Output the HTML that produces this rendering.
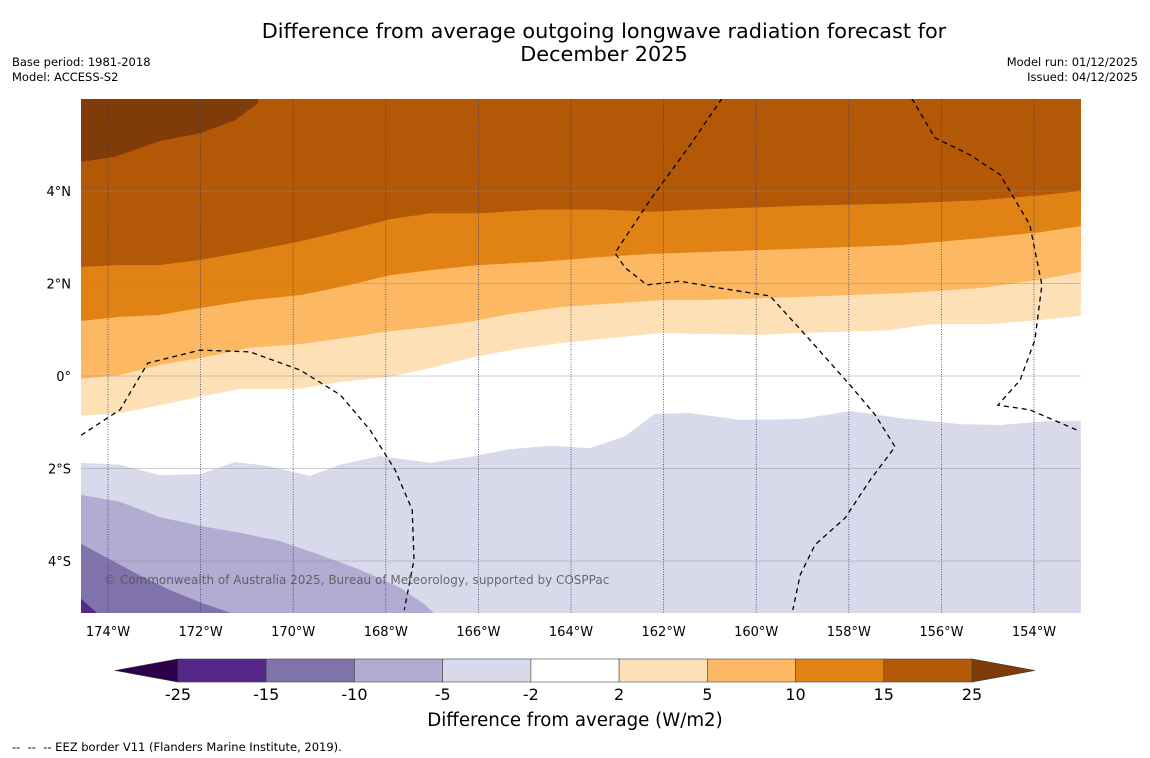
<!DOCTYPE html>
<html><head><meta charset="utf-8"><style>
body{margin:0;background:#fff;font-family:"DejaVu Sans","Liberation Sans",sans-serif}
svg{display:block}
</style></head><body>
<svg id="c" width="1150" height="758" viewBox="0 0 1150 758" xmlns="http://www.w3.org/2000/svg">
<text x="604" y="38" font-size="20.8" text-anchor="middle" fill="#000">Difference from average outgoing longwave radiation forecast for</text>
<text x="604" y="61" font-size="20.8" text-anchor="middle" fill="#000">December 2025</text>
<text x="12" y="66" font-size="11.5">Base period: 1981-2018</text>
<text x="12" y="81" font-size="11.5">Model: ACCESS-S2</text>
<text x="1138" y="66" font-size="11.5" text-anchor="end">Model run: 01/12/2025</text>
<text x="1138" y="81" font-size="11.5" text-anchor="end">Issued: 04/12/2025</text>
<g id="plot"></g>
<g id="axes"></g>
<g id="cbar"></g>
<text x="575" y="726" font-size="18.2" text-anchor="middle">Difference from average (W/m2)</text>
<text x="12" y="751" font-size="11.5" xml:space="preserve">--  --  -- EEZ border V11 (Flanders Marine Institute, 2019).</text>
</svg>
<script>
const NS="http://www.w3.org/2000/svg";
// contour boundaries: longitudes (deg E, negative = W) and latitudes
const bLon=[-174.58,-173.74,-172.88,-172.01,-170.93,-169.85,-168.77,-167.91,-167.05,-165.97,-164.67,-163.37,-162.29,-161.21,-159.05,-156.89,-155.17,-153.87,-152.99];
const b15=[2.36,2.40,2.40,2.51,2.70,2.91,3.17,3.39,3.52,3.52,3.60,3.60,3.55,3.60,3.68,3.73,3.80,3.91,4.00];
const b10=[1.19,1.28,1.32,1.47,1.64,1.75,1.97,2.18,2.29,2.40,2.47,2.57,2.64,2.68,2.75,2.83,2.98,3.11,3.24];
const b5Lon=[-174.58,-173.74,-172.88,-172.01,-170.93,-169.85,-168.77,-167.91,-167.05,-166.18,-165.32,-164.24,-162.94,-162.08,-161.21,-159.05,-156.89,-155.17,-153.87,-152.99];
const b5=[-0.06,0.02,0.24,0.39,0.61,0.69,0.84,0.97,1.06,1.17,1.34,1.49,1.58,1.64,1.64,1.71,1.79,1.90,2.08,2.25];
const b2Lon=[-174.58,-173.74,-172.88,-172.01,-171.15,-169.85,-168.99,-167.91,-167.05,-166.18,-165.32,-164.24,-162.94,-162.08,-161.21,-159.92,-159.05,-157.11,-156.25,-154.95,-153.87,-152.99];
const b2=[-0.86,-0.80,-0.63,-0.45,-0.28,-0.28,-0.13,-0.02,0.17,0.39,0.56,0.71,0.84,0.93,0.91,0.89,0.93,0.99,1.12,1.12,1.21,1.30];
const bm2Lon=[-174.58,-173.74,-172.88,-172.01,-171.26,-170.50,-169.64,-168.99,-168.13,-167.05,-166.18,-165.32,-164.45,-163.59,-162.83,-162.19,-161.43,-160.35,-159.05,-157.97,-156.89,-155.60,-154.73,-153.65,-152.99];
const bm2=[-1.88,-1.92,-2.14,-2.12,-1.86,-1.95,-2.16,-1.92,-1.73,-1.88,-1.75,-1.58,-1.51,-1.56,-1.30,-0.82,-0.80,-0.95,-0.93,-0.76,-0.91,-1.04,-1.06,-0.97,-0.97];
const m5Lon=[-174.58,-173.74,-172.88,-172.01,-171.15,-170.28,-169.42,-168.55,-167.69,-167.15,-166.97];
const bm5=[-2.57,-2.72,-3.05,-3.24,-3.39,-3.57,-3.87,-4.19,-4.58,-4.95,-5.12];
const m10Lon=[-174.58,-173.95,-173.30,-172.66,-172.01,-171.36];
const bm10=[-3.63,-3.97,-4.32,-4.63,-4.89,-5.12];
const m15Lon=[-174.58,-174.24];
const bm15=[-4.82,-5.12];
const p25Lon=[-174.58,-173.85,-172.88,-172.01,-171.26,-170.76,-170.76];
const p25=[4.63,4.74,5.08,5.25,5.53,5.90,6.0];
const eez1Lon=[-174.58,-173.74,-173.14,-172.01,-170.93,-169.85,-168.98,-168.34,-167.80,-167.43,-167.39,-167.60];
const eez1Lat=[-1.28,-0.73,0.28,0.56,0.52,0.13,-0.41,-1.17,-2.03,-2.89,-3.97,-5.06];
const eez2Lon=[-160.74,-161.43,-162.29,-163.05,-162.83,-162.36,-161.65,-160.78,-159.70,-158.84,-157.97,-157.43,-157.00,-157.54,-158.08,-158.73,-159.05,-159.21];
const eez2Lat=[6.0,4.99,3.81,2.66,2.34,1.97,2.05,1.90,1.73,0.78,-0.20,-0.84,-1.53,-2.25,-3.07,-3.65,-4.30,-5.06];
const eez3Lon=[-156.64,-156.14,-155.38,-154.73,-154.09,-153.83,-153.98,-154.30,-154.78,-154.09,-153.07];
const eez3Lat=[6.0,5.15,4.78,4.35,3.27,1.97,0.78,-0.09,-0.63,-0.73,-1.17];
const lonTicks=[-174,-172,-170,-168,-166,-164,-162,-160,-158,-156,-154];
const latTicks=[4,2,0,-2,-4];
const cLevels=["-25","-15","-10","-5","-2","2","5","10","15","25"];
const cColors=["#542788","#8073ac","#b2abd2","#d8daeb","#ffffff","#fee0b6","#fdb863","#e08214","#b35806"];

const X0=81,X1=1081,Y0=99,Y1=613;
const xs=lon=>108+(lon+174)*46.3;
const ys=lat=>376-lat*46.25;
const plot=document.getElementById('plot');
function mk(tag,attrs,parent){const e=document.createElementNS(NS,tag);for(const k in attrs)e.setAttribute(k,attrs[k]);parent.appendChild(e);return e;}
const cp=mk('clipPath',{id:'clip'},plot);mk('rect',{x:X0,y:Y0,width:X1-X0,height:Y1-Y0},cp);
const g=mk('g',{'clip-path':'url(#clip)'},plot);
const bg=mk('rect',{x:X0,y:Y0,width:X1-X0,height:Y1-Y0,fill:'#fff'},g);


function pts(lons,lats){return lons.map((l,i)=>xs(l).toFixed(1)+','+ys(lats[i]).toFixed(1));}
function bandAbove(lons,lats,col,name){
  const p=pts(lons,lats);p.push(X1+1+','+(Y0-1),(X0-1)+','+(Y0-1));
  const e=mk('polygon',{points:p.join(' '),fill:col},g);
  
  
}
function bandBelow(lons,lats,col,name){
  const p=pts(lons,lats);p.push(xs(lons[lons.length-1])+','+(Y1+1),(X0-1)+','+(Y1+1));
  const e=mk('polygon',{points:p.join(' '),fill:col},g);
  
  
}
bandAbove(b2Lon,b2,'#fee0b6','band-2-to-5');
bandAbove(b5Lon,b5,'#fdb863','band-5-to-10');
bandAbove(bLon,b10,'#e08214','band-10-to-15');
bandAbove(bLon,b15,'#b35806','band-15-to-25');
{const p=pts(p25Lon,p25);p.push((X0-1)+','+(Y0-1));const e=mk('polygon',{points:p.join(' '),fill:'#7f3b08'},g);

}
{const p=pts(bm2Lon,bm2);p.push((X1+1)+','+(Y1+1),(X0-1)+','+(Y1+1));const e=mk('polygon',{points:p.join(' '),fill:'#d8daeb'},g);

}
bandBelow(m5Lon,bm5,'#b2abd2','band-minus5-to-minus10');
bandBelow(m10Lon,bm10,'#8073ac','band-minus10-to-minus15');
bandBelow(m15Lon,bm15,'#542788','band-minus15-to-minus25');
// grid
lonTicks.forEach(l=>{const e=mk('line',{x1:xs(l),x2:xs(l),y1:Y0,y2:Y1,stroke:'#3a3a6a','stroke-width':0.8,'stroke-dasharray':'1,1.5'},g);

});
latTicks.forEach(l=>{const e=mk('line',{x1:X0,x2:X1,y1:ys(l),y2:ys(l),stroke:'#888','stroke-width':0.6,opacity:0.8},g);

});
// EEZ
[[eez1Lon,eez1Lat],[eez2Lon,eez2Lat],[eez3Lon,eez3Lat]].forEach(([a,b])=>{const e=mk('polyline',{points:pts(a,b).join(' '),fill:'none',stroke:'#000','stroke-width':1.3,'stroke-dasharray':'5,4'},g);

});
const cr=mk('text',{x:104,y:584,'font-size':12,fill:'#555',opacity:0.85},g);cr.textContent='© Commonwealth of Australia 2025, Bureau of Meteorology, supported by COSPPac';


// axes labels
const ax=document.getElementById('axes');
lonTicks.forEach(l=>{const t=mk('text',{x:xs(l),y:636,'font-size':13,'text-anchor':'middle'},ax);t.textContent=Math.abs(l)+'°W';

});
latTicks.forEach(l=>{const t=mk('text',{x:71,y:ys(l)+5,'font-size':13,'text-anchor':'end'},ax);t.textContent=l===0?'0°':Math.abs(l)+'°'+(l>0?'N':'S');

});
// colorbar
const cb=document.getElementById('cbar');
const cx0=178,cx1=972,cy0=659,cy1=682,n=cColors.length,w=(cx1-cx0)/n;
const tl=mk('polygon',{points:`${cx0},${cy0} ${cx0},${cy1} 115,${(cy0+cy1)/2}`,fill:'#2d004b',stroke:'#333','stroke-width':0.6},cb);


const tr=mk('polygon',{points:`${cx1},${cy0} ${cx1},${cy1} 1035,${(cy0+cy1)/2}`,fill:'#7f3b08',stroke:'#333','stroke-width':0.6},cb);


cColors.forEach((c,i)=>{const r=mk('rect',{x:cx0+i*w,y:cy0,width:w,height:cy1-cy0,fill:c,stroke:'#444','stroke-width':0.6},cb);

});
cLevels.forEach((s,i)=>{const t=mk('text',{x:cx0+i*w,y:700,'font-size':16,'text-anchor':'middle'},cb);t.textContent=s;

});
</script>
</body></html>
